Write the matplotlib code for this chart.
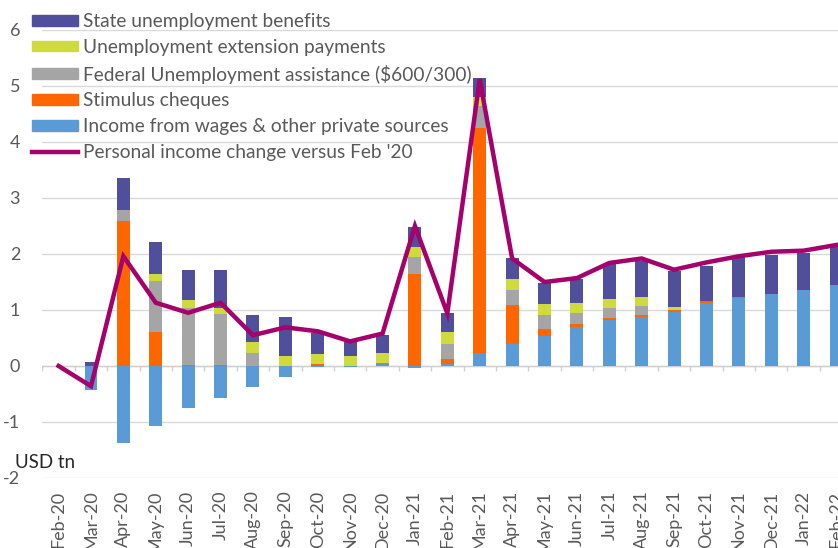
import numpy as np
import matplotlib
matplotlib.use('Agg')
import matplotlib.pyplot as plt
from matplotlib.patches import Patch
from matplotlib.lines import Line2D

# Data (USD tn, change versus Feb '20)
months = ['Feb-20', 'Mar-20', 'Apr-20', 'May-20', 'Jun-20', 'Jul-20', 'Aug-20', 'Sep-20',
          'Oct-20', 'Nov-20', 'Dec-20', 'Jan-21', 'Feb-21', 'Mar-21', 'Apr-21', 'May-21',
          'Jun-21', 'Jul-21', 'Aug-21', 'Sep-21', 'Oct-21', 'Nov-21', 'Dec-21', 'Jan-22', 'Feb-22']
wages = [0, -0.42, -1.38, -1.08, -0.75, -0.57, -0.37, -0.19, -0.01, -0.02, 0.05, -0.03, 0.04,
         0.23, 0.40, 0.54, 0.70, 0.82, 0.88, 0.97, 1.12, 1.22, 1.29, 1.35, 1.45]
stimulus = [0, 0, 2.59, 0.61, 0.02, 0.02, 0, 0, 0.03, 0, 0, 1.64, 0.09,
            4.02, 0.69, 0.12, 0.05, 0.04, 0.03, 0.03, 0.04, 0.02, 0, 0, 0]
federal = [0, 0, 0.19, 0.90, 1.02, 0.90, 0.24, 0, 0, 0, 0, 0.30, 0.26,
           0.40, 0.26, 0.25, 0.20, 0.17, 0.16, 0, 0, 0, 0, 0, 0]
extension = [0, 0, 0, 0.14, 0.13, 0.12, 0.19, 0.18, 0.18, 0.17, 0.19, 0.18, 0.21,
             0.15, 0.20, 0.20, 0.18, 0.16, 0.17, 0.06, 0, 0, 0, 0, 0]
state = [0, 0.08, 0.57, 0.57, 0.54, 0.67, 0.48, 0.69, 0.38, 0.25, 0.32, 0.37, 0.34,
         0.35, 0.37, 0.38, 0.42, 0.63, 0.64, 0.64, 0.63, 0.70, 0.69, 0.66, 0.68]
total_change = [0, -0.36, 1.96, 1.13, 0.95, 1.13, 0.55, 0.69, 0.62, 0.44, 0.58, 2.50, 0.94,
                5.12, 1.92, 1.50, 1.57, 1.84, 1.92, 1.72, 1.85, 1.96, 2.04, 2.06, 2.16]

series = [
    (wages, '#5B9BD5', 'Income from wages & other private sources'),
    (stimulus, '#FF6600', 'Stimulus cheques'),
    (federal, '#A5A5A5', 'Federal Unemployment assistance ($600/300)'),
    (extension, '#CFDA3B', 'Unemployment extension payments'),
    (state, '#4F4F9C', 'State unemployment benefits'),
]
line_color = '#A5006B'
text_gray = '#595959'

plt.rcParams['font.family'] = ['Lato', 'DejaVu Sans']
plt.rcParams['axes.unicode_minus'] = False

fig = plt.figure(figsize=(8.38, 5.48), dpi=100)
ax = fig.add_axes([42.4 / 838, 1 - 478 / 548, 1 - 42.4 / 838, (478 - 30) / 548])

x = np.arange(len(months))
pos_bottom = np.zeros(len(months))
neg_bottom = np.zeros(len(months))
for vals, color, label in series:
    v = np.array(vals, dtype=float)
    bottom = np.where(v >= 0, pos_bottom, neg_bottom)
    ax.bar(x, v, 0.4, bottom=bottom, color=color, zorder=2)
    pos_bottom += np.where(v >= 0, v, 0)
    neg_bottom += np.where(v < 0, v, 0)

ax.plot(x, total_change, color=line_color, lw=3.2, zorder=3, solid_joinstyle='miter')

ax.set_xlim(-0.5, 24.06)
ax.set_ylim(-2, 6)
ax.set_yticks(range(-2, 7))
ax.yaxis.grid(True, color='#D9D9D9', lw=1)
ax.set_axisbelow(True)
for s in ax.spines.values():
    s.set_visible(False)

# zero axis with tick marks between categories
ax.axhline(0, color='#D0D0D0', lw=1, zorder=1)
ax.vlines(np.arange(-0.5, 24.5, 1), -0.09, 0, color='#D0D0D0', lw=1, zorder=1)

ax.set_xticks(x)
ax.set_xticklabels(months, rotation=90, va='top', ha='center')
ax.tick_params(axis='x', length=0, pad=9, labelsize=13, labelcolor=text_gray)
ax.tick_params(axis='y', length=0, pad=16, labelsize=13, labelcolor=text_gray)

fig.text(15 / 838, 1 - 462 / 548, 'USD tn', fontsize=13.5, color='#262626', va='center')

handles = [Patch(color=c, label=l) for _, c, l in series[::-1]]
handles.append(Line2D([], [], color=line_color, lw=3.2, label="Personal income change versus Feb '20"))
fig.legend(handles=handles, loc='upper left', bbox_to_anchor=(32 / 838, 1 - 13 / 548),
           frameon=False, fontsize=13.8, labelcolor=text_gray, handlelength=2.4,
           handleheight=0.5, handletextpad=0.25, labelspacing=0.46, borderpad=0,
           borderaxespad=0)

fig.savefig('out.png', dpi=100)
